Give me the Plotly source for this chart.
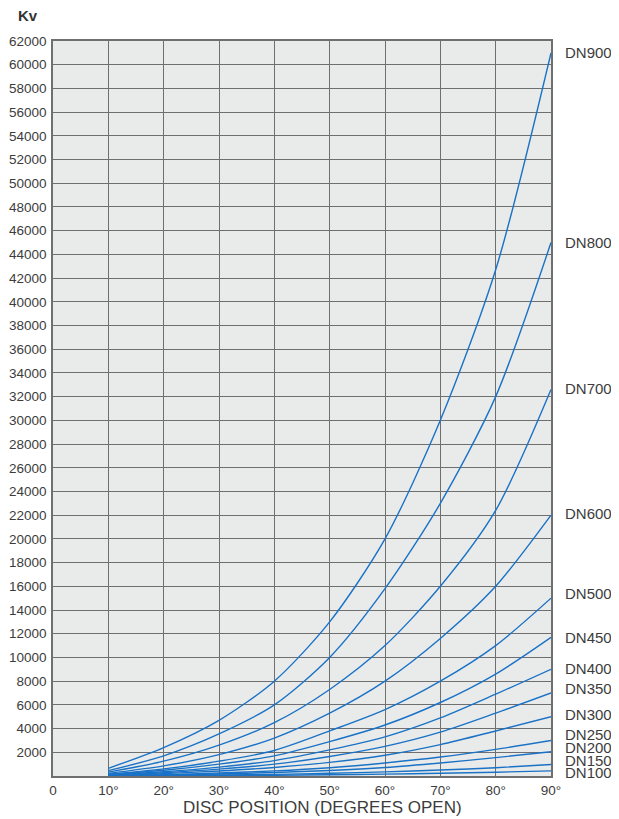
import plotly.graph_objects as go

# ---- data ----
angles = [10, 20, 30, 40, 50, 60, 70, 80, 90]
x_tick_values = [0, 10, 20, 30, 40, 50, 60, 70, 80, 90]
x_tick_labels = ["0", "10°", "20°", "30°", "40°", "50°", "60°", "70°", "80°", "90°"]
y_tick_values = list(range(2000, 62001, 2000))

size_names = ["DN100", "DN150", "DN200", "DN250", "DN300", "DN350",
              "DN400", "DN450", "DN500", "DN600", "DN700", "DN800", "DN900"]

kv_dn100 = [8, 20, 40, 65, 100, 160, 230, 320, 430]
kv_dn150 = [15, 40, 80, 140, 230, 350, 500, 700, 970]
kv_dn200 = [30, 80, 170, 300, 470, 720, 1100, 1550, 2050]
kv_dn250 = [40, 120, 250, 430, 700, 1100, 1600, 2250, 3000]
kv_dn300 = [60, 200, 420, 720, 1150, 1750, 2650, 3800, 5000]
kv_dn350 = [80, 280, 580, 1000, 1650, 2500, 3700, 5300, 7000]
kv_dn400 = [100, 360, 750, 1300, 2200, 3300, 4900, 6900, 9000]
kv_dn450 = [120, 480, 1000, 1700, 2900, 4300, 6200, 8600, 11700]
kv_dn500 = [150, 600, 1250, 2150, 3800, 5600, 8000, 11000, 15000]
kv_dn600 = [220, 850, 1800, 3200, 5300, 8000, 11600, 16000, 22000]
kv_dn700 = [330, 1250, 2600, 4500, 7300, 11000, 16000, 22400, 32600]
kv_dn800 = [450, 1700, 3550, 6000, 10000, 15800, 23000, 32000, 45000]
kv_dn900 = [650, 2400, 4700, 8000, 13000, 20000, 30000, 42700, 61000]

series = [kv_dn100, kv_dn150, kv_dn200, kv_dn250, kv_dn300, kv_dn350,
          kv_dn400, kv_dn450, kv_dn500, kv_dn600, kv_dn700, kv_dn800, kv_dn900]

x_title = "DISC POSITION (DEGREES OPEN)"
y_title = "Kv"

# ---- style ----
LINE_COLOR = "#1a72c6"
GRID_COLOR = "#6f6f6f"
TEXT_COLOR = "#3c3c3c"
FONT = "Liberation Sans, Arial, sans-serif"
label_yshift = {"DN900": 0, "DN800": 0, "DN700": 1, "DN600": 2, "DN500": 5,
                "DN450": 0, "DN400": 1, "DN350": 5, "DN300": 2, "DN250": 6,
                "DN200": 4, "DN150": 4, "DN100": -2}

fig = go.Figure()
for name, vals in zip(size_names, series):
    fig.add_trace(go.Scatter(
        x=angles, y=vals, mode="lines", name=name,
        line=dict(color=LINE_COLOR, width=1.4, shape="spline", smoothing=0.8),
        showlegend=False, hoverinfo="x+y+name"))
    fig.add_annotation(x=angles[-1], y=vals[-1], text=name, showarrow=False,
                       xanchor="left", yanchor="middle", xshift=12,
                       yshift=label_yshift[name],
                       font=dict(family=FONT, size=15, color=TEXT_COLOR))

fig.add_annotation(xref="paper", yref="paper", x=-0.05, y=1.0, yshift=26,
                   text="<b>" + y_title + "</b>", showarrow=False,
                   xanchor="center", yanchor="middle",
                   font=dict(family=FONT, size=15, color="#333333"))

fig.add_annotation(xref="paper", yref="paper", x=0.542, y=0.0, yshift=-31,
                   text=x_title, showarrow=False,
                   xanchor="center", yanchor="middle",
                   font=dict(family=FONT, size=17, color=TEXT_COLOR))

# the page body adds an 8px offset; size the figure so the plot area lands
# where the reference has it (x 53..551, y 41..776 in the window)
fig.update_layout(
    width=611, height=811,
    margin=dict(l=45, r=68, t=33, b=43),
    paper_bgcolor="white",
    plot_bgcolor="#e9ebeb",
    font=dict(family=FONT, size=13, color=TEXT_COLOR),
)
fig.update_xaxes(
    range=[0, 90], tickmode="array", tickvals=x_tick_values,
    ticktext=x_tick_labels, showgrid=True, gridcolor=GRID_COLOR, gridwidth=1.2,
    showline=True, linecolor=GRID_COLOR, linewidth=1.5, mirror=True,
    zeroline=False, ticks="", tickfont=dict(size=13.5, color=TEXT_COLOR),
    ticklabelstandoff=1, automargin=False,
)
fig.update_yaxes(
    range=[0, 62000], tickmode="array", tickvals=y_tick_values,
    ticktext=[str(v) for v in y_tick_values],
    showgrid=True, gridcolor=GRID_COLOR, gridwidth=1.2,
    showline=True, linecolor=GRID_COLOR, linewidth=1.5, mirror=True,
    zeroline=False, ticks="", tickfont=dict(size=13.5, color=TEXT_COLOR),
    ticklabelstandoff=2, automargin=False,
)

fig.write_html("out.html")
